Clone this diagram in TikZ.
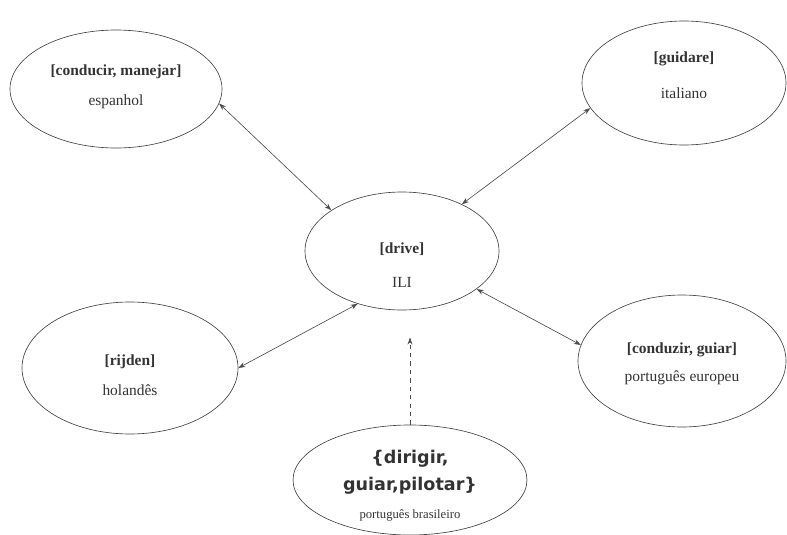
\documentclass[tikz,border=0pt]{standalone}
\usepackage{fontspec}
\setmainfont{Liberation Serif}
\newfontfamily\boldsans{DejaVu Sans}
\usetikzlibrary{shapes.geometric,arrows.meta}

\begin{document}
\begin{tikzpicture}[
    lang/.style={ellipse, draw=black!75, line width=0.016cm, inner sep=0pt},
    langtext/.style={align=center, inner sep=0pt, text=black!80, font=\fontsize{11}{13}\selectfont},
    link/.style={black!70, line width=0.016cm, {Stealth[length=5pt,width=3.5pt]}-{Stealth[length=5pt,width=3.5pt]}}
  ]
  \useasboundingbox (0,0) rectangle (19.675,13.35);

  % Node of the interlingual index
  \node [lang, minimum width=4.85cm, minimum height=2.95cm] (ili) at (10.050000,7.075000) {};%
  \node [langtext] (ilitext) at ([yshift=-0.35cm]ili.center) {\textbf{[drive]}\\[11pt] ILI};%

  % Node espanhol
  \node [lang, minimum width=5.30cm, minimum height=2.95cm] (es) at (2.900000,11.125000) {};%
  \node [langtext] (estext) at ([yshift=0.05cm]es.center) {\textbf{[conducir, manejar]}\\[8pt] espanhol};%

  % Node italiano
  \node [lang, minimum width=5.10cm, minimum height=3.10cm] (it) at (17.100000,11.275000) {};%
  \node [langtext] (ittext) at ([yshift=0.2cm]it.center) {\textbf{[guidare]}\\[13pt] italiano};%

  % Node holandes
  \node [lang, minimum width=5.40cm, minimum height=3.30cm] (nl) at (3.250000,4.150000) {};%
  \node [langtext] (nltext) at ([yshift=-0.175cm]nl.center) {\textbf{[rijden]}\\[8pt] holandês};%

  % Node portugues europeu
  \node [lang, minimum width=5.20cm, minimum height=3.30cm] (pt) at (17.050000,4.325000) {};%
  \node [langtext] (pttext) at ([yshift=-0.075cm]pt.center) {\textbf{[conduzir, guiar]}\\[7pt] português europeu};%

  % Node portugues brasileiro
  \node [lang, minimum width=5.85cm, minimum height=2.75cm] (br) at (10.250000,1.350000) {};%
  \node [langtext, font=\boldsans\bfseries\fontsize{12.5}{15}\selectfont] (brtext) at ([yshift=-0.15cm]br.center)
        {\textbraceleft dirigir,\\[4pt] guiar,pilotar\textbraceright\\[5pt]
         {\rmfamily\mdseries\fontsize{9}{10}\selectfont português brasileiro}};%

  % Drawing link es ili
  \draw [link] (es.-8) -- (ili.150);%

  % Drawing link it ili
  \draw [link] (it.195) -- (ili.38);%

  % Drawing link nl ili
  \draw [link] (nl.0) -- (ili.-130);%

  % Drawing link pt ili
  \draw [link] (pt.171) -- (ili.-27);%

  % Drawing dashed link br ili
  \draw [black!70, line width=0.016cm, dashed, -{Stealth[length=5pt,width=3.5pt]}, shorten >=0.68cm]
        (br.north) -- (br.north |- ili.south);%
\end{tikzpicture}
\end{document}
